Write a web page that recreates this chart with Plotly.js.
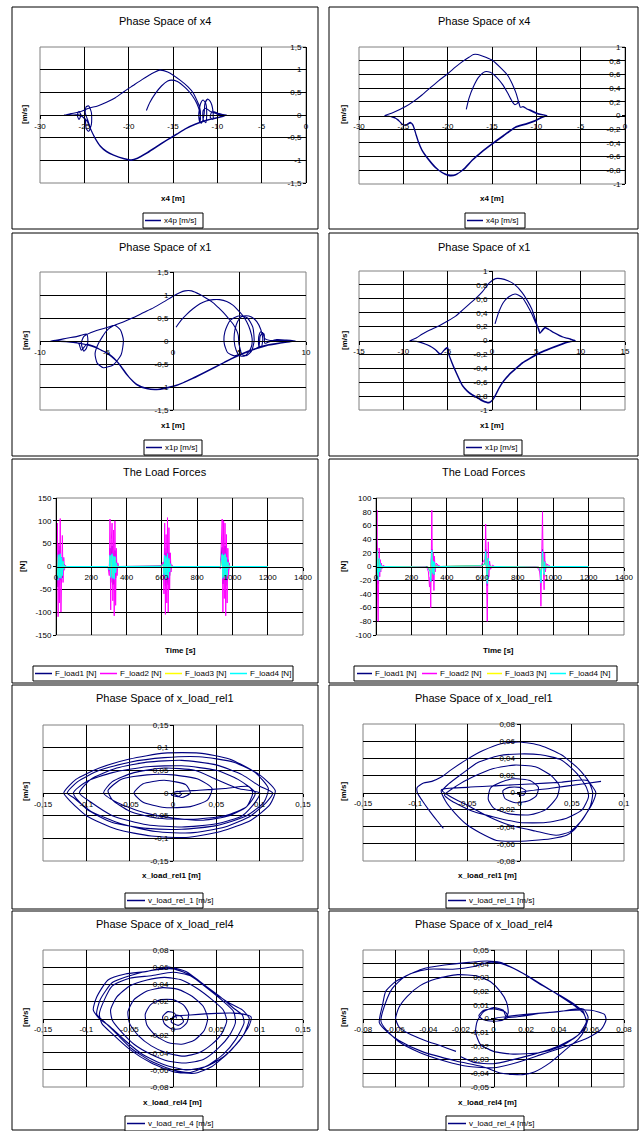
<!DOCTYPE html>
<html><head><meta charset="utf-8">
<script src="https://cdn.plot.ly/plotly-3.0.1.min.js"></script>
<style>html,body{margin:0;padding:0;background:#fff;}#chart{width:643px;height:1131px;}</style>
</head><body><div id="chart"></div>
<script>
// ---------------- tick values ----------------
const ticksX4 = [-30,-25,-20,-15,-10,-5,0];
const ticksV15 = [-1.5,-1,-0.5,0,0.5,1,1.5];
const ticksV10 = [-1,-0.8,-0.6,-0.4,-0.2,0,0.2,0.4,0.6,0.8,1];
const ticksX1L = [-10,-5,0,5,10];
const ticksX1R = [-15,-10,-5,0,5,10,15];
const ticksTime = [0,200,400,600,800,1000,1200,1400];
const ticksF150 = [-150,-100,-50,0,50,100,150];
const ticksF100 = [-100,-80,-60,-40,-20,0,20,40,60,80,100];
const ticksRel15 = [-0.15,-0.1,-0.05,0,0.05,0.1,0.15];
const ticksRel1RX = [-0.15,-0.1,-0.05,0,0.05,0.1];
const ticksRel08 = [-0.08,-0.06,-0.04,-0.02,0,0.02,0.04,0.06,0.08];
const ticksRel05 = [-0.05,-0.04,-0.03,-0.02,-0.01,0,0.01,0.02,0.03,0.04,0.05];

// ---------------- series: [position, velocity] ----------------
const x4PhaseLeft = [
[-18.0,0.10],[-17.6,0.28],[-17.0,0.47],[-16.3,0.64],[-15.6,0.75],[-15.2,0.77],[-14.5,0.74],[-13.5,0.58],[-12.8,0.42],[-12.3,0.25],[-12.0,0.08],[-11.9,-0.08],[-12.0,-0.16],[-12.1,0.0],[-11.9,0.25],[-11.6,0.33],[-11.3,0.25],[-11.2,0.0],[-11.3,-0.17],[-11.6,-0.1],[-11.6,0.1],[-11.3,0.15],[-10.8,0.08],[-10.4,0.05],[-10.0,0.02],[-9.5,0.01],[-9.0,0.0],
[-9.7,-0.04],[-11.2,-0.11],[-12.5,-0.2],[-13.5,-0.29],[-14.6,-0.42],[-15.7,-0.55],[-16.9,-0.7],[-18.0,-0.84],[-19.0,-0.95],[-19.7,-0.99],[-20.5,-0.96],[-21.7,-0.88],[-22.5,-0.8],[-23.2,-0.68],[-23.8,-0.5],[-24.3,-0.3],[-24.6,-0.12],
[-24.9,0.05],[-24.8,0.18],[-24.5,0.2],[-24.2,0.05],[-24.2,-0.2],[-24.5,-0.36],[-24.8,-0.3],[-24.9,-0.1],[-25.3,-0.02],[-25.6,0.08],[-25.8,0.0],[-25.6,-0.1],[-25.4,0.0],[-26.2,0.0],[-27.2,0.0],
[-26.5,0.03],[-25.5,0.07],[-24.5,0.15],[-23.5,0.2],[-22.5,0.28],[-21.5,0.38],[-20.5,0.52],[-19.5,0.65],[-18.5,0.78],[-17.5,0.9],[-16.5,0.99],[-15.6,0.95],[-14.2,0.77],[-13.3,0.62],[-12.7,0.48],[-12.3,0.32],[-12.0,0.18],[-11.9,0.0],[-12.0,-0.15],[-11.8,-0.18],[-11.5,0.0],[-11.4,0.25],[-11.1,0.35],[-10.8,0.3],[-10.5,0.1],[-10.5,-0.1],[-10.8,-0.05],[-10.6,0.08],[-10.2,0.06],[-9.8,0.03],[-9.4,0.01],[-8.95,0.0],
[-9.7,-0.05],[-11.2,-0.12],[-12.5,-0.21],[-13.5,-0.3],[-14.6,-0.43],[-15.7,-0.56],[-16.9,-0.71],[-18.0,-0.85],[-19.0,-0.96],[-19.7,-1.0],[-20.5,-0.97],[-21.7,-0.89],[-22.5,-0.81],[-23.2,-0.69],[-23.8,-0.51],[-24.3,-0.31],[-24.7,-0.13],[-25.3,-0.03],[-26.2,0.0],[-27.3,0.0]
];
const x4PhaseRight = [
[-17.9,0.09],[-17.6,0.25],[-17.1,0.42],[-16.5,0.56],[-15.8,0.64],[-15.2,0.63],[-14.5,0.56],[-13.8,0.45],[-13.2,0.32],[-12.7,0.2],[-12.45,0.16],[-12.2,0.17],[-12.0,0.2],[-11.8,0.12],[-11.5,0.13],[-11.0,0.09],[-10.5,0.06],[-10.0,0.03],[-9.4,0.01],[-8.9,0.0],
[-9.5,-0.03],[-10.1,-0.07],[-11.2,-0.12],[-12.4,-0.17],[-13.6,-0.28],[-15.0,-0.41],[-16.2,-0.53],[-17.25,-0.65],[-18.2,-0.78],[-19.1,-0.87],[-19.9,-0.88],[-20.7,-0.83],[-21.4,-0.75],[-22.2,-0.63],[-22.9,-0.5],[-23.3,-0.38],[-23.6,-0.26],[-23.9,-0.14],[-24.1,-0.11],[-24.4,-0.12],[-24.8,-0.14],[-25.2,-0.12],[-25.6,-0.06],[-26.3,-0.02],[-27.1,0.0],
[-26.2,0.04],[-24.75,0.13],[-23.8,0.21],[-22.9,0.3],[-22.0,0.4],[-21.0,0.51],[-20.0,0.61],[-19.1,0.71],[-18.3,0.79],[-17.6,0.85],[-17.1,0.89],[-16.6,0.89],[-16.1,0.87],[-15.0,0.81],[-13.9,0.68],[-13.2,0.58],[-12.75,0.47],[-12.3,0.33],[-12.0,0.2],[-11.8,0.12],[-11.5,0.13],[-11.1,0.1],[-10.5,0.07],[-9.8,0.03],[-9.2,0.01],[-8.8,0.0],
[-9.5,-0.04],[-10.1,-0.08],[-11.2,-0.13],[-12.4,-0.18],[-13.6,-0.29],[-15.0,-0.42],[-16.2,-0.54],[-17.25,-0.66],[-18.2,-0.79],[-19.1,-0.86],[-19.7,-0.87],[-20.5,-0.84],[-21.4,-0.76],[-22.2,-0.64],[-22.9,-0.51],[-23.3,-0.39],[-23.6,-0.27],[-23.9,-0.15],[-24.2,-0.1],[-24.6,-0.13],[-25.0,-0.14],[-25.4,-0.09],[-26.0,-0.03],[-27.0,0.0]
];
const x1PhaseLeft = [
[0.23,0.30],[0.6,0.45],[1.03,0.58],[1.5,0.7],[2.03,0.81],[2.5,0.87],[3.03,0.9],[3.5,0.9],[4.04,0.86],[4.5,0.78],[4.79,0.7],[5.2,0.57],[5.54,0.42],[5.8,0.24],[5.95,0.05],[5.9,-0.12],[5.66,-0.25],[5.35,-0.33],[5.0,-0.32],[4.75,-0.2],[4.6,0.0],[4.66,0.25],[4.85,0.42],[5.1,0.52],[5.5,0.55],[5.9,0.52],[6.3,0.42],[6.6,0.25],[6.75,0.05],[6.65,-0.12],[6.45,-0.1],[6.45,0.1],[6.6,0.2],[6.85,0.15],[6.9,-0.05],[7.2,-0.02],[7.8,0.03],[8.5,0.02],[9.2,0.0],
[8.05,-0.04],[7.04,-0.09],[6.04,-0.18],[5.3,-0.26],[4.54,-0.36],[3.8,-0.47],[3.03,-0.58],[2.3,-0.69],[1.53,-0.8],[0.8,-0.9],[0.03,-0.98],[-0.6,-1.02],[-1.23,-1.05],[-1.98,-1.03],[-2.73,-0.94],[-3.2,-0.82],[-3.48,-0.72],[-3.9,-0.55],[-4.24,-0.43],[-4.6,-0.33],[-4.99,-0.25],[-5.4,-0.2],[-5.74,-0.14],[-6.1,-0.1],[-6.49,-0.07],[-6.7,-0.14],[-6.9,-0.2],[-7.1,-0.05],[-7.8,-0.02],[-8.6,0.0],[-9.2,0.0],
[-8.5,0.03],[-8.0,0.06],[-7.2,0.1],[-6.85,0.13],[-6.5,0.15],[-6.4,0.02],[-6.5,-0.15],[-6.7,-0.22],[-6.9,-0.05],[-6.7,0.1],[-6.2,0.18],[-5.49,0.25],[-4.9,0.3],[-4.36,0.34],[-3.95,0.24],[-3.73,0.02],[-3.9,-0.3],[-4.5,-0.52],[-5.24,-0.58],[-5.7,-0.48],[-5.86,-0.28],[-5.6,-0.05],[-5.0,0.22],[-4.49,0.33],[-3.7,0.42],[-2.98,0.51],[-2.2,0.62],[-1.48,0.72],[-0.7,0.85],[0.03,0.98],[0.5,1.05],[0.9,1.09],[1.4,1.09],[2.03,1.01],[2.5,0.93],[3.03,0.83],[3.4,0.73],[3.78,0.62],[4.2,0.48],[4.54,0.36],[4.8,0.22],[4.91,0.12],[4.95,-0.05],[5.04,-0.16],[5.16,-0.29],[5.5,-0.32],[5.9,-0.22],[6.1,0.0],[6.0,0.3],[5.6,0.5],[5.0,0.55],[4.3,0.45],[3.9,0.2],[3.85,-0.05],[4.1,-0.25],[4.6,-0.32],[5.3,-0.27],[6.04,-0.19],[6.45,-0.12],[6.55,0.1],[6.75,0.18],[6.9,0.05],[7.3,0.01],[8.0,0.01],[8.6,0.0],[9.15,0.0],
[8.05,-0.05],[7.04,-0.1],[6.04,-0.19],[4.54,-0.37],[3.03,-0.59],[1.53,-0.81],[0.03,-0.99],[-1.23,-1.06],[-1.98,-1.04],[-2.73,-0.95],[-3.48,-0.73],[-4.24,-0.44],[-4.99,-0.26],[-5.74,-0.15],[-6.49,-0.08],[-7.5,-0.03],[-9.1,0.0]
];
const x1PhaseRight = [
[0.34,0.24],[0.8,0.42],[1.3,0.55],[1.9,0.63],[2.6,0.67],[3.4,0.62],[4.0,0.5],[4.5,0.38],[4.9,0.26],[5.3,0.16],[5.4,0.1],[5.6,0.14],[6.0,0.19],[6.4,0.16],[7.0,0.11],[7.6,0.07],[8.3,0.04],[8.9,0.02],[9.3,0.0],
[8.5,-0.02],[7.2,-0.08],[6.2,-0.13],[5.3,-0.18],[4.3,-0.25],[3.4,-0.32],[2.6,-0.41],[1.9,-0.49],[1.3,-0.58],[0.8,-0.68],[0.4,-0.78],[0.0,-0.86],[-0.34,-0.89],[-1.1,-0.86],[-1.6,-0.82],[-2.2,-0.78],[-2.8,-0.72],[-3.35,-0.64],[-3.7,-0.55],[-4.1,-0.44],[-4.5,-0.32],[-4.85,-0.2],[-5.0,-0.1],[-5.3,-0.12],[-5.6,-0.17],[-5.85,-0.19],[-6.3,-0.14],[-7.0,-0.08],[-7.8,-0.04],[-8.6,-0.01],[-9.2,0.0],
[-8.5,0.04],[-7.9,0.09],[-7.0,0.15],[-6.0,0.21],[-5.0,0.28],[-4.1,0.35],[-3.3,0.44],[-2.6,0.52],[-1.8,0.61],[-1.1,0.7],[-0.3,0.83],[0.4,0.89],[1.0,0.89],[1.8,0.86],[2.6,0.8],[3.4,0.69],[4.0,0.57],[4.5,0.45],[4.9,0.3],[5.2,0.17],[5.38,0.11],[5.6,0.13],[6.0,0.18],[6.5,0.15],[7.2,0.1],[8.0,0.05],[8.8,0.02],[9.4,0.0],
[8.5,-0.03],[7.2,-0.09],[6.2,-0.14],[5.3,-0.19],[4.3,-0.26],[3.4,-0.33],[2.6,-0.42],[1.9,-0.5],[1.3,-0.59],[0.8,-0.69],[0.4,-0.79],[0.0,-0.87],[-0.34,-0.9],[-1.1,-0.87],[-1.6,-0.83],[-2.2,-0.79],[-2.8,-0.73],[-3.35,-0.65],[-3.7,-0.56],[-4.1,-0.45],[-4.5,-0.33],[-4.85,-0.21],[-5.0,-0.11],[-5.4,-0.14],[-5.85,-0.2],[-6.4,-0.13],[-7.2,-0.07],[-8.2,-0.02],[-9.3,0.0]
];

// ---------------- load forces ----------------
const timeLeft = [0,4,8,12,16,20,24,28,32,36,40,44,48,52,58,70,280,
290,296,302,306,310,314,318,322,326,330,334,338,342,346,350,356,370,590,
596,602,608,612,616,620,624,628,632,636,640,644,648,652,656,662,675,920,
926,932,938,942,946,950,954,958,962,966,970,974,978,982,986,992,1005,1200];
const fLoad1Left = [5,30,-20,-45,35,-40,45,-30,20,-25,15,-8,4,-1,0,0,0,
0,-2,-10,40,-35,25,45,-40,30,-38,35,-25,15,-8,3,0,0,0,
1,3,6,-25,40,-42,30,-35,45,-40,30,-20,12,-5,2,0,0,0,
0,-3,25,42,-38,40,-30,45,-42,30,-30,15,-8,3,-1,0,0,0];
const fLoad2Left = [10,60,95,-110,50,-80,105,-100,40,68,-35,20,-8,3,0,0,0,
0,-4,-20,104,-95,60,95,-75,80,-108,100,-85,40,-20,8,0,0,0,
2,5,10,-60,95,-105,70,-80,107,-100,85,-50,30,-12,4,0,0,0,
0,-5,60,104,-100,100,-70,95,-108,70,-80,40,-20,8,-3,0,0,0];
const fLoad3Left = [3,20,-15,-25,22,-20,25,-22,15,-18,10,-5,2,-1,0,0,0,
0,-1,-6,22,-20,15,25,-22,18,-25,20,-12,6,-3,1,0,0,0,
0,2,4,-15,22,-25,18,-20,25,-22,15,-10,5,-2,1,0,0,0,
0,-2,15,25,-22,22,-18,25,-25,18,-18,8,-4,2,0,0,0,0];
const fLoad4Left = [5,25,-22,-30,26,-25,28,-26,20,-20,12,-6,3,-1,0,0,0,
0,-2,-8,25,-24,20,28,-26,22,-28,22,-14,8,-4,1,0,0,0,
0,3,5,-18,25,-28,22,-24,28,-25,18,-12,6,-3,1,0,0,0,
0,-2,18,28,-26,25,-22,28,-28,20,-20,10,-5,2,-1,0,0,0];

const timeRight = [0,3,6,9,12,15,18,21,24,27,30,34,40,50,280,
290,296,302,306,309,312,315,318,321,324,327,330,334,340,350,365,590,
596,602,608,612,616,619,622,625,628,631,634,637,641,647,657,670,905,
912,918,924,928,931,934,937,940,943,946,949,952,956,962,972,985,1200];
const fLoad1Right = [0,40,20,-15,-25,10,8,-8,5,-3,2,-1,0,0,0,
0,-2,-6,-5,-22,8,25,5,-10,8,-12,6,-3,2,0,0,0,
1,2,3,4,3,25,8,-15,-28,-8,12,-5,3,-1,0,0,0,
0,-1,-3,-8,-22,-5,15,25,5,-10,-12,8,-3,1,0,0,0];
const fLoad2Right = [0,40,82,-40,-80,-20,27,-15,10,-8,5,-3,2,0,0,
-3,-8,-30,-15,-60,20,82,10,-20,20,-35,15,-8,5,2,0,0,
3,6,8,10,5,62,20,-40,-80,-20,36,-15,8,-4,2,0,0,
-2,-4,-8,-20,-58,-10,40,80,10,-20,-34,20,-8,4,2,0,0];
const fLoad3Right = [0,15,22,-8,-18,-5,10,-6,4,-3,2,-1,0,0,0,
0,-1,-5,-4,-18,5,20,4,-8,6,-10,5,-2,1,0,0,0,
1,2,3,3,2,18,6,-10,-22,-6,10,-4,2,-1,0,0,0,
0,-1,-2,-5,-18,-4,12,20,4,-8,-10,6,-2,1,0,0,0];
const fLoad4Right = [0,18,23,-10,-20,-6,12,-8,5,-4,2,-1,0,0,0,
0,-1,-6,-5,-22,6,24,5,-10,8,-12,6,-3,1,0,0,0,
1,2,3,3,2,22,8,-12,-25,-8,12,-5,2,-1,0,0,0,
0,-1,-3,-6,-24,-5,14,22,5,-10,-12,7,-3,1,0,0,0];

// ---------------- relative load phases ----------------
const rel1PhaseLeft = [
[0.0,0.0],[0.005,0.004],[0.01,-0.002],[0.006,-0.008],[-0.002,-0.004],[0.002,0.002],
[0.03,0.006],[0.06,0.01],[0.088,0.014],[0.092,0.0],[0.085,-0.03],[0.065,-0.05],[0.035,-0.06],[0.0,-0.055],[-0.03,-0.045],[-0.06,-0.025],[-0.08,0.0],[-0.07,0.025],[-0.045,0.045],[-0.01,0.055],[0.025,0.05],[0.05,0.03],[0.075,0.01],[0.1,0.0],[0.095,-0.02],[0.08,-0.05],[0.05,-0.068],[0.01,-0.075],[-0.03,-0.07],[-0.07,-0.05],[-0.095,-0.02],[-0.108,0.0],[-0.095,0.03],[-0.065,0.055],[-0.03,0.068],[0.01,0.072],[0.05,0.062],[0.08,0.04],[0.1,0.015],[0.115,0.0],[0.108,-0.02],[0.09,-0.05],[0.06,-0.075],[0.02,-0.088],[-0.02,-0.085],[-0.06,-0.068],[-0.095,-0.04],[-0.115,-0.01],[-0.122,0.0],[-0.11,0.025],[-0.085,0.05],[-0.05,0.068],[-0.01,0.078],[0.03,0.08],[0.07,0.068],[0.1,0.04],[0.118,0.005],[0.112,-0.025],[0.09,-0.06],[0.055,-0.085],[0.015,-0.098],[-0.025,-0.095],[-0.065,-0.08],[-0.1,-0.05],[-0.12,-0.015],[-0.126,0.0],[-0.112,0.03],[-0.085,0.055],[-0.05,0.075],[-0.01,0.088],[0.03,0.088],[0.065,0.075],[0.095,0.045],[0.11,0.01],[0.105,-0.02],[0.085,-0.05],[0.05,-0.072],[0.01,-0.08],[-0.03,-0.078],[-0.07,-0.065],[-0.1,-0.035],[-0.115,0.0],[-0.1,0.025],[-0.07,0.045],[-0.03,0.058],[0.01,0.06],[0.05,0.05],[0.075,0.03],[0.095,0.0],[0.085,-0.03],[0.06,-0.05],[0.02,-0.058],[-0.02,-0.055],[-0.05,-0.04],[-0.07,-0.015],[-0.075,0.005],[-0.06,0.03],[-0.03,0.04],[0.0,0.04],[0.03,0.03],[0.045,0.01],[0.04,-0.015],[0.02,-0.03],[-0.01,-0.032],[-0.035,-0.02],[-0.045,0.0],[-0.035,0.02],[-0.01,0.028],[0.015,0.018],[0.02,0.0],[0.01,-0.01],[0.0,0.0]
];
const rel1PhaseRight = [
[-0.073,-0.042],[-0.079,-0.033],[-0.086,-0.022],[-0.093,-0.01],[-0.098,0.0],[-0.098,0.006],[-0.092,0.011],[-0.084,0.013],[-0.075,0.018],[-0.065,0.027],[-0.05,0.039],[-0.035,0.049],[-0.018,0.057],[0.0,0.059],[0.02,0.055],[0.04,0.044],[0.057,0.027],[0.068,0.01],[0.073,0.0],[0.07,-0.012],[0.062,-0.028],[0.052,-0.044],[0.045,-0.05],[0.03,-0.054],[0.012,-0.056],[-0.005,-0.057],[-0.022,-0.056],[-0.038,-0.047],[-0.05,-0.038],[-0.062,-0.024],[-0.071,-0.01],[-0.075,0.003],
[-0.05,0.006],[-0.02,0.008],[0.01,0.01],[0.04,0.012],[0.065,0.014],[0.07,0.0],[0.068,-0.015],[0.06,-0.032],[0.048,-0.046],[0.035,-0.05],
[0.015,-0.045],[-0.01,-0.038],[-0.03,-0.028],[-0.05,-0.015],[-0.066,-0.005],[-0.074,0.002],[-0.068,0.01],[-0.055,0.022],[-0.04,0.035],[-0.02,0.043],[0.0,0.045],[0.02,0.044],[0.04,0.038],[0.055,0.022],[0.064,0.006],[0.066,-0.005],[0.06,-0.02],[0.045,-0.03],
[0.025,-0.035],[0.0,-0.035],[-0.02,-0.03],[-0.045,-0.022],[-0.065,-0.01],[-0.072,-0.003],[-0.06,0.008],[-0.045,0.018],[-0.025,0.028],[-0.005,0.032],[0.015,0.03],[0.03,0.02],[0.038,0.008],[0.036,-0.005],[0.025,-0.02],[0.01,-0.026],[-0.01,-0.025],[-0.025,-0.018],[-0.03,-0.008],[-0.028,0.005],[-0.018,0.012],[-0.005,0.016],[0.01,0.014],[0.018,0.006],[0.016,-0.004],[0.008,-0.01],[-0.004,-0.012],[-0.014,-0.007],[-0.016,0.002],[-0.01,0.006],[0.0,0.006],[0.006,0.002],[0.004,-0.003],[-0.002,-0.002],[0.0,0.0],[0.03,0.005],[0.06,0.01],[0.078,0.013]
];
const rel4PhaseLeft = [
[0.0,0.0],[0.004,0.004],[0.01,0.002],[0.012,-0.004],[0.006,-0.008],[-0.002,-0.004],[0.0,0.002],[0.02,0.004],[0.05,0.006],[0.075,0.006],[0.09,0.002],[0.088,-0.008],[0.075,-0.028],[0.058,-0.045],[0.038,-0.056],[0.015,-0.06],[-0.01,-0.054],[-0.035,-0.042],[-0.055,-0.026],[-0.072,-0.01],[-0.085,0.0],[-0.092,0.01],[-0.088,0.025],[-0.075,0.045],[-0.055,0.052],[-0.03,0.055],[-0.005,0.06],[0.015,0.055],[0.035,0.04],[0.055,0.025],[0.07,0.012],[0.08,0.004],[0.082,-0.005],[0.072,-0.025],[0.058,-0.042],[0.04,-0.055],[0.02,-0.063],[0.0,-0.06],[-0.025,-0.05],[-0.048,-0.035],[-0.065,-0.018],[-0.078,-0.005],
[-0.088,0.005],[-0.084,0.022],[-0.07,0.042],[-0.05,0.05],[-0.025,0.056],[0.0,0.058],[0.022,0.05],[0.045,0.032],[0.065,0.018],[0.08,0.01],[0.088,0.0],[0.082,-0.018],[0.066,-0.038],[0.045,-0.056],[0.025,-0.064],[0.0,-0.062],[-0.025,-0.052],[-0.05,-0.036],[-0.07,-0.018],[-0.082,-0.006],
[-0.085,0.005],[-0.08,0.02],[-0.07,0.038],[-0.05,0.047],[-0.025,0.05],[0.0,0.054],[0.02,0.05],[0.04,0.035],[0.058,0.02],[0.07,0.008],[0.072,-0.005],[0.065,-0.02],[0.052,-0.035],[0.035,-0.048],[0.015,-0.052],[-0.005,-0.05],[-0.025,-0.042],[-0.045,-0.03],[-0.06,-0.015],[-0.07,-0.002],[-0.072,0.01],[-0.065,0.025],[-0.05,0.038],[-0.03,0.045],[-0.01,0.048],[0.01,0.045],[0.028,0.035],[0.045,0.022],[0.058,0.01],[0.062,-0.003],[0.056,-0.018],[0.045,-0.03],[0.03,-0.04],[0.012,-0.044],[-0.008,-0.04],[-0.025,-0.032],[-0.04,-0.02],[-0.05,-0.006],[-0.052,0.008],[-0.045,0.022],[-0.03,0.032],[-0.012,0.036],[0.006,0.034],[0.022,0.026],[0.035,0.014],[0.04,0.0],[0.036,-0.014],[0.025,-0.025],[0.01,-0.03],[-0.006,-0.028],[-0.02,-0.02],[-0.03,-0.008],[-0.032,0.005],[-0.026,0.016],[-0.014,0.022],[0.0,0.022],[0.012,0.016],[0.018,0.006],[0.016,-0.005],[0.008,-0.012],[-0.002,-0.012],[-0.01,-0.006],[-0.012,0.002],[-0.006,0.008],[0.002,0.006],[0.004,0.0]
];
const rel4PhaseRight = [
[-0.023,-0.024],[-0.032,-0.02],[-0.042,-0.016],[-0.052,-0.011],[-0.058,-0.006],[-0.06,0.0],[-0.058,0.008],[-0.053,0.016],[-0.045,0.024],[-0.035,0.029],[-0.022,0.032],[-0.01,0.031],[-0.002,0.027],[0.004,0.02],[0.008,0.012],[0.009,0.004],[0.006,-0.001],[0.0,-0.002],[-0.006,-0.001],[-0.009,0.002],[-0.006,0.006],[0.0,0.007],[0.007,0.005],[0.009,0.001],[0.005,-0.001],[0.0,0.0],
[0.02,0.003],[0.04,0.005],[0.055,0.007],[0.058,0.001],[0.056,-0.007],[0.05,-0.014],[0.04,-0.021],[0.028,-0.025],[0.012,-0.026],[0.0,-0.024],[-0.008,-0.019],[-0.011,-0.01],[-0.01,-0.002],[-0.006,0.005],[0.0,0.008],[0.006,0.006],[0.008,0.001],
[0.03,0.004],[0.05,0.006],[0.06,0.006],[0.068,0.003],[0.069,-0.001],[0.066,-0.008],[0.058,-0.014],[0.045,-0.02],[0.03,-0.026],[0.015,-0.032],[0.0,-0.036],[-0.015,-0.035],[-0.03,-0.031],[-0.045,-0.025],[-0.058,-0.017],[-0.066,-0.008],[-0.069,-0.002],[-0.066,0.012],[-0.062,0.022],[-0.055,0.03],[-0.044,0.036],[-0.03,0.039],[-0.015,0.041],[-0.004,0.042],[0.004,0.041],[0.018,0.033],[0.03,0.024],[0.042,0.016],[0.05,0.01],[0.055,0.005],[0.057,-0.003],[0.056,-0.008],[0.052,-0.015],[0.045,-0.022],[0.035,-0.032],[0.025,-0.039],[0.018,-0.041],[0.005,-0.04],[-0.007,-0.035],[-0.023,-0.031],[-0.044,-0.024],[-0.058,-0.016],[-0.065,-0.01],[-0.07,-0.003],[-0.068,0.01],[-0.066,0.02],[-0.06,0.027],[-0.05,0.033],[-0.04,0.036],[-0.025,0.036],[-0.012,0.038],[-0.003,0.041],[0.005,0.04],[0.015,0.035],[0.028,0.026],[0.04,0.017],[0.05,0.009],[0.055,0.004],[0.057,-0.002],[0.052,-0.012],[0.04,-0.02],[0.025,-0.026],[0.012,-0.03],[0.0,-0.033],[-0.012,-0.032],[-0.02,-0.028]
];

// ---------------- layout ----------------
const W = 643, H = 1131;
const FONT = 'Liberation Sans, Arial, sans-serif';
const NAVY = '#000080';
const LOADCOLORS = ['#000080', '#FF00FF', '#FFFF00', '#00FFFF'];
const loadNames = ['F_load1 [N]', 'F_load2 [N]', 'F_load3 [N]', 'F_load4 [N]'];

const px = v => v / W;
const py = v => 1 - v / H;
const fmt = v => String(v).replace('.', ',');

function phase(pts, name) {
  return [{name: name, x: pts.map(p => p[0]), y: pts.map(p => p[1]), color: NAVY, spline: true}];
}
function loads(t, series) {
  return series.map((s, i) => ({name: loadNames[i], x: t, y: s, color: LOADCOLORS[i], spline: false}));
}

const panels = [
 {title:'Phase Space of x4', box:[12,7,318,229], plot:[40,47,306,183], xr:[-30,0], yr:[-1.5,1.5], xt:ticksX4, yt:ticksV15,
  xtitle:['x4 [m]',173,199], ytitle:['[m/s]',25,115], ty:21, leg:{box:[143,213,203,228], items:[[145,161,163]]},
  series: phase(x4PhaseLeft, 'x4p [m/s]')},
 {title:'Phase Space of x4', box:[329,7,638,229], plot:[359,47,625,184], xr:[-30,0], yr:[-1,1], xt:ticksX4, yt:ticksV10,
  xtitle:['x4 [m]',492,199], ytitle:['[m/s]',344,115], ty:21, leg:{box:[465,213,525,228], items:[[467,483,485]]},
  series: phase(x4PhaseRight, 'x4p [m/s]')},
 {title:'Phase Space of x1', box:[12,233,318,456], plot:[40,272,306,410], xr:[-10,10], yr:[-1.5,1.5], xt:ticksX1L, yt:ticksV15,
  xtitle:['x1 [m]',173,425], ytitle:['[m/s]',25,341], ty:247, leg:{box:[144,440,202,455], items:[[146,162,164]]},
  series: phase(x1PhaseLeft, 'x1p [m/s]')},
 {title:'Phase Space of x1', box:[329,233,638,456], plot:[359,271,625,410], xr:[-15,15], yr:[-1,1], xt:ticksX1R, yt:ticksV10,
  xtitle:['x1 [m]',492,425], ytitle:['[m/s]',344,341], ty:247, leg:{box:[464,440,522,455], items:[[466,482,484]]},
  series: phase(x1PhaseRight, 'x1p [m/s]')},
 {title:'The Load Forces', box:[12,459,318,683], plot:[56,498,303,635], xr:[0,1400], yr:[-150,150], xt:ticksTime, yt:ticksF150,
  xtitle:['Time [s]',180,650], ytitle:['[N]',22,567], ty:472,
  leg:{box:[33,666,293,681], items:[[35,52,54],[100,117,119],[165,182,184],[230,247,249]]},
  series: loads(timeLeft, [fLoad1Left, fLoad2Left, fLoad3Left, fLoad4Left])},
 {title:'The Load Forces', box:[329,459,638,683], plot:[376,498,624,635], xr:[0,1400], yr:[-100,100], xt:ticksTime, yt:ticksF100,
  xtitle:['Time [s]',498,650], ytitle:['[N]',343,567], ty:472,
  leg:{box:[354,666,617,681], items:[[357,372,374],[422,437,439],[487,502,504],[550,566,568]]},
  series: loads(timeRight, [fLoad1Right, fLoad2Right, fLoad3Right, fLoad4Right])},
 {title:'Phase Space of x_load_rel1', box:[12,685,318,909], plot:[43,725,303,861], xr:[-0.15,0.15], yr:[-0.15,0.15], xt:ticksRel15, yt:ticksRel15,
  xtitle:['x_load_rel1 [m]',171,875], ytitle:['[m/s]',25,792], ty:698, leg:{box:[125,893,203,908], items:[[127,145,147]]},
  series: phase(rel1PhaseLeft, 'v_load_rel_1 [m/s]')},
 {title:'Phase Space of x_load_rel1', box:[329,685,638,909], plot:[363,724,624,861], xr:[-0.15,0.1], yr:[-0.08,0.08], xt:ticksRel1RX, yt:ticksRel08,
  xtitle:['x_load_rel1 [m]',487,875], ytitle:['[m/s]',343,792], ty:698, leg:{box:[446,893,524,908], items:[[448,466,468]]},
  series: phase(rel1PhaseRight, 'v_load_rel_1 [m/s]')},
 {title:'Phase Space of x_load_rel4', box:[12,911,318,1130], plot:[43,950,303,1087], xr:[-0.15,0.15], yr:[-0.08,0.08], xt:ticksRel15, yt:ticksRel08,
  xtitle:['x_load_rel4 [m]',173,1102], ytitle:['[m/s]',25,1018], ty:924, leg:{box:[125,1116,203,1131], items:[[127,145,147]]},
  series: phase(rel4PhaseLeft, 'v_load_rel_4 [m/s]')},
 {title:'Phase Space of x_load_rel4', box:[329,911,638,1130], plot:[363,950,624,1087], xr:[-0.08,0.08], yr:[-0.05,0.05], xt:ticksRel08, yt:ticksRel05,
  xtitle:['x_load_rel4 [m]',487,1102], ytitle:['[m/s]',343,1018], ty:924, leg:{box:[446,1116,524,1131], items:[[448,466,468]]},
  series: phase(rel4PhaseRight, 'v_load_rel_4 [m/s]')}
];

const data = [];
const layout = {
  width: W, height: H, margin: {l:0, r:0, t:0, b:0},
  paper_bgcolor: '#fff', plot_bgcolor: '#fff', showlegend: false,
  font: {family: FONT, size: 8, color: '#000'},
  shapes: [], annotations: []
};

panels.forEach((p, i) => {
  const n = i + 1, sx = n === 1 ? '' : String(n);
  const xa = 'xaxis' + sx, ya = 'yaxis' + sx;
  const [l, t, r, b] = p.plot;
  const xd = [px(l), px(r)], yd = [py(b), py(t)];
  const zeroX = l + (0 - p.xr[0]) / (p.xr[1] - p.xr[0]) * (r - l);
  const zeroY = b - (0 - p.yr[0]) / (p.yr[1] - p.yr[0]) * (b - t);
  const common = {showgrid: false, showline: true, linecolor: '#000', linewidth: 1,
    ticks: 'outside', ticklen: 3, tickcolor: '#000', tickwidth: 1, zeroline: false, tickmode: 'array',
    tickfont: {family: FONT, size: 8, color: '#000'}, anchor: 'free', fixedrange: true, layer: 'above traces'};
  // gridlines only inside the plot area; the zero line is drawn by the crossing axis itself
  const inner = arr => arr.slice(1, arr.length - 1).filter(v => v !== 0);
  layout[xa] = Object.assign({}, common, {domain: xd, range: p.xr, tickvals: p.xt, ticktext: p.xt.map(fmt), position: py(zeroY), side: 'bottom',
    minor: {tickmode: 'array', tickvals: inner(p.xt), showgrid: true, gridcolor: '#000', gridwidth: 1, ticks: ''}});
  layout[ya] = Object.assign({}, common, {domain: yd, range: p.yr, tickvals: p.yt, ticktext: p.yt.map(fmt), position: px(zeroX), side: 'left',
    minor: {tickmode: 'array', tickvals: inner(p.yt), showgrid: true, gridcolor: '#000', gridwidth: 1, ticks: ''}});

  p.series.forEach(s => {
    data.push({type: 'scatter', mode: 'lines', name: s.name, x: s.x, y: s.y, xaxis: 'x' + sx, yaxis: 'y' + sx,
      line: s.spline ? {color: s.color, width: 1.1, shape: 'spline', smoothing: 0.6} : {color: s.color, width: 1},
      hoverinfo: 'skip', showlegend: false});
  });

  // outer chart box
  layout.shapes.push({type: 'rect', xref: 'paper', yref: 'paper', x0: px(p.box[0]), x1: px(p.box[2]), y0: py(p.box[3]), y1: py(p.box[1]),
    line: {color: '#000', width: 1}, fillcolor: 'rgba(0,0,0,0)', layer: 'below'});
  // plot area border
  layout.shapes.push({type: 'rect', xref: 'paper', yref: 'paper', x0: px(l), x1: px(r), y0: py(b), y1: py(t),
    line: {color: '#808080', width: 1}, fillcolor: 'rgba(0,0,0,0)', layer: 'below'});

  const cx = (p.box[0] + p.box[2]) / 2;
  layout.annotations.push({text: p.title, xref: 'paper', yref: 'paper', x: px(cx), y: py(p.ty), xanchor: 'center', yanchor: 'middle',
    showarrow: false, font: {family: FONT, size: 11, color: '#000'}});
  layout.annotations.push({text: p.xtitle[0], xref: 'paper', yref: 'paper', x: px(p.xtitle[1]), y: py(p.xtitle[2]), xanchor: 'center', yanchor: 'middle',
    showarrow: false, font: {family: FONT, size: 8, color: '#000', weight: 'bold'}});
  layout.annotations.push({text: p.ytitle[0], xref: 'paper', yref: 'paper', x: px(p.ytitle[1]), y: py(p.ytitle[2]), xanchor: 'center', yanchor: 'middle',
    textangle: -90, showarrow: false, font: {family: FONT, size: 8, color: '#000', weight: 'bold'}});

  // legend
  const lb = p.leg.box, my = (lb[1] + lb[3]) / 2;
  layout.shapes.push({type: 'rect', xref: 'paper', yref: 'paper', x0: px(lb[0]), x1: px(lb[2]), y0: py(lb[3]), y1: py(lb[1]),
    line: {color: '#000', width: 1}, fillcolor: '#fff', layer: 'above'});
  p.leg.items.forEach((it, k) => {
    const s = p.series[k];
    layout.shapes.push({type: 'line', xref: 'paper', yref: 'paper', x0: px(it[0]), x1: px(it[1]), y0: py(my), y1: py(my),
      line: {color: s.color, width: 1.5}, layer: 'above'});
    layout.annotations.push({text: s.name, xref: 'paper', yref: 'paper', x: px(it[2]), y: py(my), xanchor: 'left', yanchor: 'middle',
      showarrow: false, borderpad: 0, font: {family: FONT, size: 8, color: '#000'}});
  });
});

Plotly.newPlot('chart', data, layout, {staticPlot: true, displayModeBar: false});
</script>
</body></html>
